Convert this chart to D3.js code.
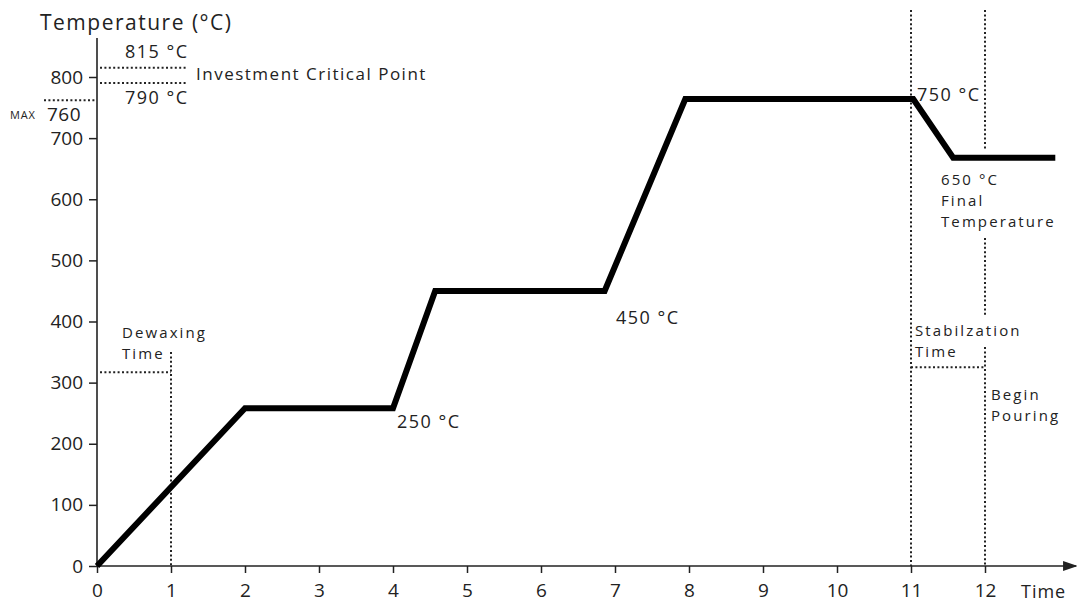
<!DOCTYPE html>
<html>
<head>
<meta charset="utf-8">
<script src="https://cdn.jsdelivr.net/npm/d3@7"></script>
<style>
  body { margin: 0; background: #fff; }
  svg text { font-family: "Open Sans", "Lato", sans-serif; fill: #222; }
  .dot { stroke: #222; stroke-width: 2; stroke-dasharray: 2,2.4; fill: none; }
</style>
</head>
<body>
<svg id="chart" width="1080" height="605"></svg>
<script>
// Heating schedule
const times = [0, 2, 4, 4.57, 6.86, 7.95, 11.03, 11.57, 12.95];
const temps = [0, 258, 258, 450, 450, 764, 764, 668, 668];

const xTicks = [0, 1, 2, 3, 4, 5, 6, 7, 8, 9, 10, 11, 12];
const yTicks = [0, 100, 200, 300, 400, 500, 600, 700, 800];

// reference levels (°C) and marker times
const criticalHigh = 815;
const criticalLow = 790;
const maxLevel = 762;
const dewaxLevel = 317;
const dewaxTime = 1;
const stabilLevel = 325;
const stabilStart = 11;
const pourTime = 12;

const svg = d3.select('#chart');

const x = d3.scaleLinear().domain([0, 12]).range([97, 985]);
const y = d3.scaleLinear().domain([0, 800]).range([566, 77]);

// Axes
const xAxis = svg.append('g')
    .attr('transform', `translate(0,${y(0)})`)
    .call(d3.axisBottom(x).tickValues(xTicks).tickSize(7).tickSizeOuter(0).tickPadding(11));
xAxis.select('.domain').remove();
xAxis.selectAll('line').attr('stroke', '#222').attr('stroke-width', 1.5);
xAxis.selectAll('text').style('font-size', '19px').attr('fill', '#222');

const yAxis = svg.append('g')
    .attr('transform', `translate(${x(0)},0)`)
    .call(d3.axisLeft(y).tickValues(yTicks).tickSize(8).tickSizeOuter(0).tickPadding(6));
yAxis.select('.domain').remove();
yAxis.selectAll('line').attr('stroke', '#222').attr('stroke-width', 1.5);
yAxis.selectAll('text').style('font-size', '19px').attr('fill', '#222');

// axis lines
svg.append('defs').append('marker')
    .attr('id', 'arrow').attr('viewBox', '0 0 10 10')
    .attr('refX', 9).attr('refY', 5)
    .attr('markerWidth', 9).attr('markerHeight', 9)
    .attr('orient', 'auto')
    .append('path').attr('d', 'M0,1.5 L10,5 L0,8.5 Z').attr('fill', '#222');

svg.append('line')
    .attr('x1', x(0)).attr('y1', y(0)).attr('x2', 1076).attr('y2', y(0))
    .attr('stroke', '#222').attr('stroke-width', 1.6)
    .attr('marker-end', 'url(#arrow)');
svg.append('line')
    .attr('x1', x(0)).attr('y1', y(0)).attr('x2', x(0)).attr('y2', 38)
    .attr('stroke', '#222').attr('stroke-width', 1.6);

// dotted guides
function dotted(x1, y1, x2, y2) {
    svg.append('line').attr('class', 'dot')
        .attr('x1', x1).attr('y1', y1).attr('x2', x2).attr('y2', y2);
}
dotted(x(0) + 3, y(criticalHigh), 186, y(criticalHigh));
dotted(x(0) + 3, y(criticalLow), 186, y(criticalLow));
dotted(44, y(maxLevel), x(0) - 2, y(maxLevel));
dotted(x(0) + 3, y(dewaxLevel), x(dewaxTime), y(dewaxLevel));
dotted(x(dewaxTime), 352, x(dewaxTime), y(0));
dotted(x(stabilStart), 10, x(stabilStart), y(0));
dotted(x(stabilStart), y(stabilLevel), x(pourTime), y(stabilLevel));
dotted(x(pourTime), 10, x(pourTime), 150);
dotted(x(pourTime), 238, x(pourTime), 315);
dotted(x(pourTime), 347, x(pourTime), y(0));

// temperature curve
const line = d3.line().x((d, i) => x(times[i])).y(d => y(d));
svg.append('path')
    .datum(temps)
    .attr('d', line)
    .attr('fill', 'none')
    .attr('stroke', '#000')
    .attr('stroke-width', 6)
    .attr('stroke-linejoin', 'miter');

// text
function label(tx, ty, str, size, spacing) {
    svg.append('text').attr('x', tx).attr('y', ty)
        .style('font-size', (size || 16) + 'px')
        .style('letter-spacing', (spacing === undefined ? 1.8 : spacing) + 'px')
        .text(str);
}
// multi-line note: one text element, lines as tspans
function note(tx, ty, lines) {
    const t = svg.append('text').attr('x', tx).attr('y', ty)
        .style('font-size', '15px').style('letter-spacing', '2.1px');
    lines.forEach((s, i) => {
        t.append('tspan').attr('x', tx).attr('dy', i === 0 ? 0 : 21).text(s);
    });
}
label(40, 30, 'Temperature (°C)', 21, 1.5);
label(125, 58, '815 °C', 18, 1.5);
label(196, 80, 'Investment Critical Point', 17, 1.5);
label(125, 104, '790 °C', 18, 1.5);
label(10, 119, 'MAX', 11, 0.8);
label(47, 121, '760', 19, 0.5);
note(122, 338, ['Dewaxing', 'Time']);
label(397, 428, '250 °C', 18, 1.5);
label(616, 324, '450 °C', 18, 1.5);
label(917, 101, '750 °C', 18, 1.5);
note(941, 185, ['650 °C', 'Final', 'Temperature']);
note(915, 336, ['Stabilzation', 'Time']);
note(991, 400, ['Begin', 'Pouring']);
label(1021, 598, 'Time', 18, 1);
</script>
</body>
</html>
